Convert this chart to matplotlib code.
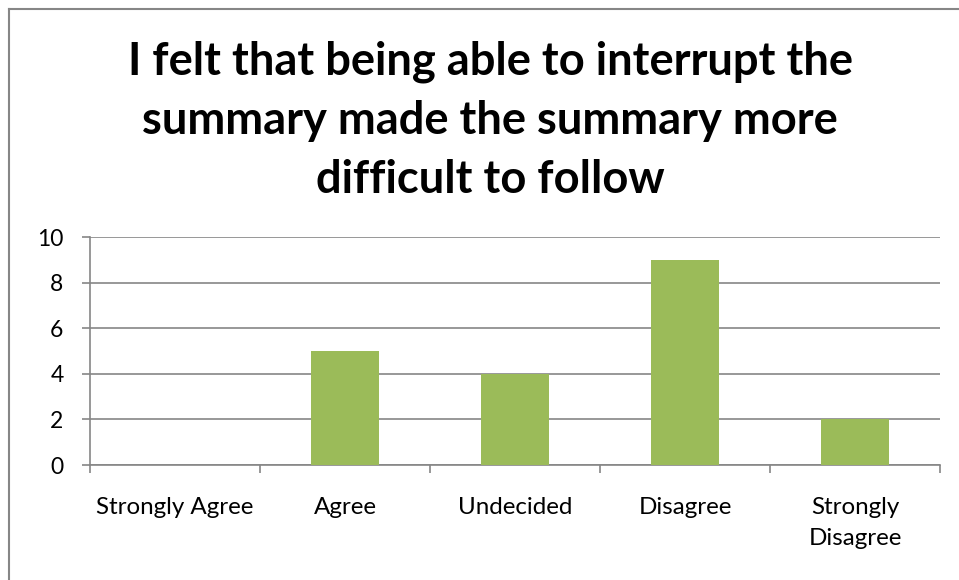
import matplotlib
matplotlib.use("Agg")
import matplotlib.pyplot as plt
from matplotlib.lines import Line2D

categories = ["Strongly Agree", "Agree", "Undecided", "Disagree", "Strongly\nDisagree"]
values = [0, 5, 4, 9, 2]
yticks = [0, 2, 4, 6, 8, 10]
title = "I felt that being able to interrupt the\nsummary made the summary more\ndifficult to follow"

plt.rcParams['font.family'] = ['Lato', 'DejaVu Sans']

fig = plt.figure(figsize=(9.59, 5.80), dpi=100)
ax = fig.add_axes([90/959, 115/580, 850/959, 228/580])

x = list(range(len(categories)))
ax.bar(x, values, width=0.4, color="#9BBB59", zorder=3)
ax.set_xlim(-0.5, len(categories) - 0.5)
ax.set_ylim(0, 10)
ax.set_yticks(yticks)
ax.set_yticklabels([str(v) for v in yticks], fontsize=16.5)
ax.grid(axis='y', color="#868686", linewidth=1.2, zorder=0)
ax.set_axisbelow(True)

for s in ['top', 'right']:
    ax.spines[s].set_visible(False)
for s in ['left', 'bottom']:
    ax.spines[s].set_color("#868686")
    ax.spines[s].set_linewidth(1.2)

ax.set_xticks([i - 0.5 for i in range(len(categories) + 1)], minor=False)
ax.set_xticklabels([])
ax.set_xticks(x, minor=True)
ax.set_xticklabels(categories, minor=True, fontsize=17.4, linespacing=1.6)
ax.tick_params(axis='x', which='major', length=6, color="#868686", width=1.2, direction='out')
ax.tick_params(axis='x', which='minor', length=0, pad=23)
ax.tick_params(axis='y', length=6, color="#868686", width=1.2, pad=13)
for lbl in ax.get_xticklabels(minor=True):
    lbl.set_verticalalignment('top')

fig.text(490/959, 1 - 121/580, title, ha='center', va='center', fontsize=32.6,
         fontweight='bold', linespacing=1.5)

# chart border (left and top visible)
fig.add_artist(Line2D([9/959, 9/959], [0, 1 - 9/580], color="#868686", linewidth=1.5, transform=fig.transFigure))
fig.add_artist(Line2D([9/959, 1], [1 - 9/580, 1 - 9/580], color="#868686", linewidth=1.5, transform=fig.transFigure))

fig.savefig("out.png", dpi=100)
